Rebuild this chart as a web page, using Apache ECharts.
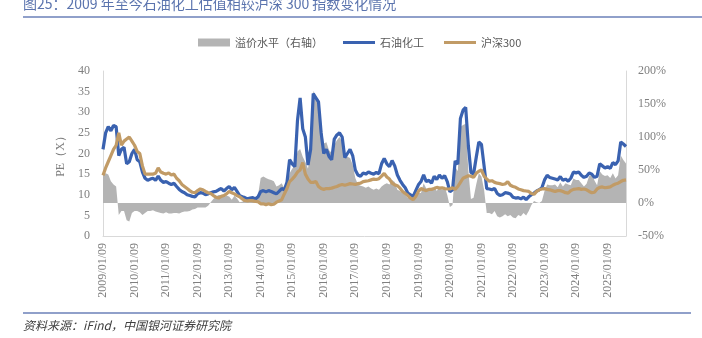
<!DOCTYPE html>
<html><head><meta charset="utf-8">
<script src="https://cdn.jsdelivr.net/npm/echarts@6/dist/echarts.min.js"></script>
<style>html,body{margin:0;padding:0;background:#fff}#c{width:702px;height:338px}</style>
</head><body><div id="c"></div>
<script>
// Monthly observations from 2009/01 to 2025/08 (200 points)
const startYear = 2009;
const monthCount = 200;
const yearTickLabels = ['2009/01/09','2010/01/09','2011/01/09','2012/01/09','2013/01/09','2014/01/09','2015/01/09','2016/01/09','2017/01/09','2018/01/09','2019/01/09','2020/01/09','2021/01/09','2022/01/09','2023/01/09','2024/01/09','2025/01/09'];
const petrochemPE = [
21,25,26.5,25.5,26.8,26.5,19.5,21,21.5,17.5,18,20,21,18.5,18,15.5,14,13.5,13.8,14,
13.5,14.5,13.5,13,13.2,12.8,12.5,12.8,12,11.3,10.8,10.5,10,9.8,9.6,9.5,10.2,10.5,10.4,10,
10.2,10.5,10.7,10.8,11.2,11.5,10.9,11.5,12,11.2,11.8,10.8,9.8,9.5,9.3,9.0,9.2,9.3,9.0,9.5,
10.8,11,10.7,11,10.8,10.5,10.2,10.8,11.5,11.2,13,18.5,17.5,16.8,28,33.5,26,24,17.2,21,
34.5,33.5,32.5,25,20,21,19.3,18.5,23.5,24.5,25,24,19,20,21,19.5,16,14.8,14.5,15.3,
15,15.5,15.2,15,15.4,15.1,17.5,18.8,17.5,16.8,18.3,17,14.8,13.5,12.5,11.7,10.4,10,9.6,11,
12.4,13.2,14.8,13.2,13.5,12.8,14.5,13.7,14.8,14,14.6,13.2,10.7,11.2,18.2,17.4,28.5,30.5,31.2,22,
15.4,15,19,22.8,22.2,17,11.5,11.4,11.2,11.5,10.3,9.8,10,10.5,10.4,10.2,9.4,9.2,9.3,9.0,
9.4,8.8,9.5,10,10.4,10.9,11.2,11.7,13.6,14.7,14.2,14,13.8,13.6,14.4,13.5,13.8,13.3,14,15.5,
15.3,15.5,14.7,14.2,14.5,15.3,15,14.2,14.5,17.5,17,16.5,16.8,16.4,17.8,17.3,18.2,22.8,22.3,21.7
];
const hs300PE = [
14.7,16.5,18,19.5,21,22,25,22,23,23.5,24,23,22,20.5,20,17,15,15,15,15,
15.2,16.5,15.5,15.2,15,15.3,14.8,15,14,13.4,12.5,12,11.5,11,10.6,10.5,11,11.4,11.2,10.8,
10.5,10.3,9.8,9.4,9.2,9.6,9.8,10.2,10.8,10.5,10.2,9.8,9.5,9,8.6,8.5,8.6,8.5,8.4,8.3,
7.8,7.8,7.6,7.8,7.6,7.7,8.2,8.5,8.8,10.2,11.5,13.2,13.8,14.5,15.5,16,17.8,15,13.8,13,
13,13.2,12,11.5,11.3,11.5,11.5,11.6,11.8,12,12.3,12.5,12.3,12.5,12.7,12.6,12.5,12.7,12.8,13.2,
13.3,13.4,13.6,13.8,13.7,13.9,14.5,15.2,14.3,13.8,12.8,12.4,12.2,11.6,10.8,10.3,9.8,9.2,8.8,9.6,
10.8,11.5,11.2,11,11.3,11.3,11.5,11.8,11.6,11.7,11.5,11.4,11.4,11.7,11.3,12,13,14,14.3,14.6,
14.5,14.2,15.2,15.7,16,14.5,13.8,13.3,13.4,13,12.8,12.7,12.5,12.6,13.2,12.3,12,11.8,11.4,11.2,
11,10.9,10.8,10.3,10.1,10.8,11.2,11.4,11.5,11.3,11.2,11,10.8,11,11,10.8,10.5,10.4,11,11.3,
11.4,11.5,11.3,11.4,11.2,10.8,10.5,10.6,11.4,11.8,11.9,11.7,11.8,11.9,12.3,12.6,12.8,13.2,13.5,13.6
];
const premiumPct = [
44,45,43,33,28,25,-18,-12,-12,-26,-28,-15,-12,-12,-14,-18,-15,-12,-12,-11,
-13,-14,-15,-16,-14,-16,-16,-15,-15,-16,-14,-13,-13,-12,-10,-9,-7,-7,-7,-7,
-4,1,6,10,12,12,9,11,10,5,11,7,1,2,5,5,5,6,6,12,
38,40,38,36,35,33,25,27,30,22,25,45,52,57,78,82,70,62,52,80,
170,160,148,120,90,92,80,76,88,95,100,92,72,70,68,58,38,28,26,25,
23,25,22,20,22,20,25,28,30,28,35,32,20,18,15,12,8,8,9,14,
15,15,30,22,22,18,25,18,25,20,25,12,-6,-3,55,48,115,118,120,50,
6,8,28,45,40,20,-15,-15,-17,-12,-20,-22,-20,-17,-20,-18,-22,-23,-18,-20,
-15,-19,-12,-3,3,1,0,3,18,28,27,27,28,24,31,25,30,28,27,37,
35,35,30,25,29,41,43,34,27,48,43,41,42,38,45,37,42,72,65,60
];

const categories = [];
for (let i = 0; i < monthCount; i++) {
  const y = startYear + Math.floor(i / 12);
  const mo = (i % 12) + 1;
  categories.push(y + '/' + (mo < 10 ? '0' + mo : mo) + '/09');
}

const gray = '#b4b4b4', blue = '#3a62b0', tan = '#c19b66';
const axisFont = 'Liberation Serif, Times New Roman, serif';
const cjk = '"Noto Sans CJK SC", sans-serif';
const lineIcon = 'path://M0,0L32,0L32,3.2L0,3.2Z';

const chart = echarts.init(document.getElementById('c'), null, {renderer: 'canvas'});
chart.setOption({
  animation: false,
  backgroundColor: '#fff',
  grid: {left: 103, right: 76, top: 71, bottom: 102, containLabel: false},
  legend: {
    left: 198, top: 37, padding: 0, itemWidth: 32, itemHeight: 8, itemGap: 20,
    textStyle: {fontSize: 11, color: '#595959', fontFamily: cjk},
    data: [
      {name: '溢价水平（右轴）', icon: 'rect', itemStyle: {color: gray}},
      {name: '石油化工', icon: lineIcon, itemStyle: {color: blue}},
      {name: '沪深300', icon: lineIcon, itemStyle: {color: tan}}
    ]
  },
  xAxis: {
    type: 'category', data: categories, boundaryGap: false,
    axisLine: {lineStyle: {color: '#d9d9d9', width: 1}},
    axisTick: {show: false},
    axisLabel: {
      rotate: 90, margin: 7, fontSize: 12, color: '#7f7f7f', fontFamily: axisFont,
      interval: function (idx, val) { return yearTickLabels.indexOf(val) >= 0; }
    },
    splitLine: {show: false}
  },
  yAxis: [
    {
      type: 'value', min: 0, max: 40, interval: 5,
      name: 'PE（X）', nameLocation: 'middle', nameRotate: 90, nameGap: 32,
      nameTextStyle: {fontSize: 12, color: '#7f7f7f', fontFamily: axisFont},
      axisLine: {show: true, lineStyle: {color: '#d9d9d9'}},
      axisTick: {show: false},
      axisLabel: {fontSize: 12, color: '#7f7f7f', fontFamily: axisFont, margin: 13},
      splitLine: {show: false}
    },
    {
      type: 'value', min: -50, max: 200, interval: 50, position: 'right',
      axisLine: {show: true, lineStyle: {color: '#d9d9d9'}},
      axisTick: {show: false},
      axisLabel: {fontSize: 12, color: '#7f7f7f', fontFamily: axisFont, margin: 12, formatter: '{value}%'},
      splitLine: {show: false}
    }
  ],
  series: [
    {
      name: '溢价水平（右轴）', type: 'line', yAxisIndex: 1, data: premiumPct,
      symbol: 'none', lineStyle: {width: 0, color: gray}, itemStyle: {color: gray},
      areaStyle: {color: gray, opacity: 1, origin: 0}, z: 1
    },
    {
      name: '石油化工', type: 'line', yAxisIndex: 0, data: petrochemPE,
      symbol: 'none', lineStyle: {width: 3.2, color: blue}, itemStyle: {color: blue}, z: 2
    },
    {
      name: '沪深300', type: 'line', yAxisIndex: 0, data: hs300PE,
      symbol: 'none', lineStyle: {width: 3.2, color: tan}, itemStyle: {color: tan}, z: 3
    }
  ],
  graphic: [
    {type: 'text', left: 23, top: -3, style: {text: '图25：2009 年至今石油化工估值相较沪深 300 指数变化情况', fontSize: 14, fill: '#5b74ae', fontFamily: cjk}},
    {type: 'line', shape: {x1: 23, y1: 17, x2: 702, y2: 17}, style: {stroke: '#6b80b8', lineWidth: 1.5}},
    {type: 'line', shape: {x1: 23, y1: 313, x2: 691, y2: 313}, style: {stroke: '#6b80b8', lineWidth: 1.5}},
    {type: 'text', left: 23, top: 319, style: {text: '资料来源：iFind，中国银河证券研究院', fontSize: 12, fill: '#404040', fontFamily: cjk, fontStyle: 'italic'}}
  ]
});
</script></body></html>
